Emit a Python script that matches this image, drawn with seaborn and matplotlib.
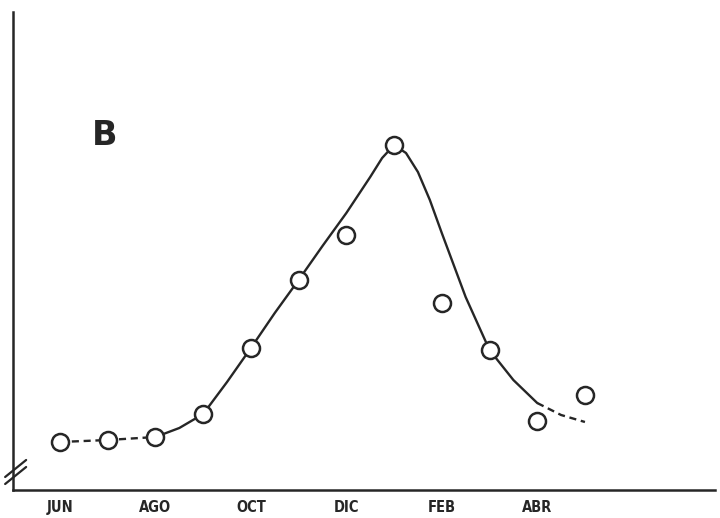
import matplotlib
matplotlib.use("Agg")
import matplotlib.pyplot as plt
import seaborn as sns
import pandas as pd

# Observed points (month index 0 = JUN ... 11 = MAY), arbitrary units
months = ["JUN", "JUL", "AGO", "SEP", "OCT", "NOV", "DIC", "ENE", "FEB", "MAR", "ABR", "MAY"]
obs_x = list(range(12))
obs_y = [48, 50, 53, 76, 142, 210, 255, 345, 187, 140, 69, 95]

# Fitted curve
curve_x = [0, 1, 2, 2.5, 3, 3.5, 4, 4.5, 5, 5.5, 6, 6.5, 6.75, 7,
           7.25, 7.5, 7.75, 8, 8.5, 9, 9.5, 10, 10.5, 11]
curve_y = [48, 50, 53, 62, 76, 108, 142, 177, 210, 244, 277, 313, 332, 345,
           337, 318, 290, 257, 193, 140, 110, 87, 75, 68]

tick_pos = [0, 2, 4, 6, 8, 10]
tick_labels = ["JUN", "AGO", "OCT", "DIC", "FEB", "ABR"]
panel_label = "B"

sns.set_style("white")
plt.rcParams['font.family'] = ['DejaVu Sans']

ink = "#262626"
fig = plt.figure(figsize=(7.2, 5.18), dpi=100)
ax = fig.add_axes([13/720, 28/518, 702/720, 478/518])

curve = pd.DataFrame({"x": curve_x, "y": curve_y})
seg1 = curve[curve.x <= 2]
seg2 = curve[(curve.x >= 2) & (curve.x <= 10)]
seg3 = curve[curve.x >= 10]
sns.lineplot(data=seg1, x="x", y="y", ax=ax, color=ink, lw=1.7,
             linestyle=(0, (3, 2)), sort=False, zorder=2)
sns.lineplot(data=seg2, x="x", y="y", ax=ax, color=ink, lw=1.7,
             sort=False, zorder=2)
sns.lineplot(data=seg3, x="x", y="y", ax=ax, color=ink, lw=1.7,
             linestyle=(0, (3, 2)), sort=False, zorder=2)

pts = pd.DataFrame({"x": obs_x, "y": obs_y})
sns.scatterplot(data=pts, x="x", y="y", ax=ax, s=150, marker="o",
                facecolor="white", edgecolor=ink, linewidth=1.8, zorder=3)

ax.set_xlim(-47/47.7, 11 + 130/47.7)
ax.set_ylim(0, 478)
ax.set_xticks(tick_pos)
ax.set_xticklabels(tick_labels, fontsize=10.5, fontweight="bold",
                   fontstretch="condensed", color=ink)
ax.tick_params(axis="x", length=0, pad=7)
ax.set_yticks([])
ax.set_xlabel("")
ax.set_ylabel("")
for s in ["top", "right"]:
    ax.spines[s].set_visible(False)
for s in ["left", "bottom"]:
    ax.spines[s].set_color(ink)
    ax.spines[s].set_linewidth(1.8)

# axis break marks
for dy in (0, 7):
    ax.plot([-1.15, -0.71], [6 + dy, 23 + dy], color=ink, lw=1.6,
            clip_on=False, zorder=4)

ax.text(0.94, 355, panel_label, fontsize=24, fontweight="bold",
        color=ink, ha="center", va="center")

fig.savefig("out.png", dpi=100, facecolor="white")
